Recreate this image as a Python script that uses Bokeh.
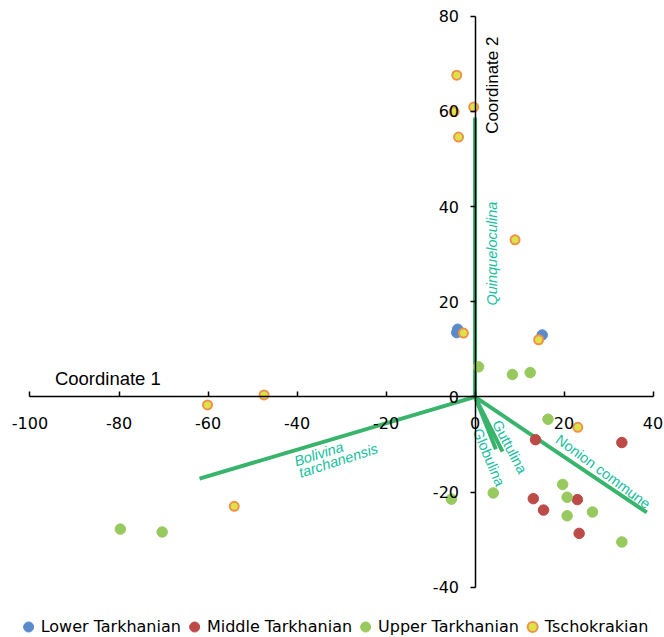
from math import pi
from bokeh.plotting import figure
from bokeh.models import LinearAxis, FixedTicker, Range1d
from bokeh.core.properties import value
from bokeh.embed import file_html
from bokeh.resources import INLINE

# ---- data ----
lower_x = [-3.9, -4.1, 15.1]
lower_y = [14.2, 13.5, 13.0]
middle_x = [13.6, 33.0, 13.1, 23.0, 15.4, 23.4]
middle_y = [-9.0, -9.6, -21.4, -21.6, -23.8, -28.7]
upper_x = [0.8, 8.4, 12.4, 16.4, 19.7, 4.1, 20.7, -5.3, 26.4, 20.7, 33.0, -79.7, -70.3]
upper_y = [6.3, 4.7, 5.1, -4.7, -18.4, -20.2, -21.1, -21.5, -24.2, -25.0, -30.5, -27.8, -28.4]
tsch_x = [-4.1, -4.7, -0.3, -3.7, 9.0, -2.6, 14.3, -60.1, -47.4, -54.1, 23.1]
tsch_y = [67.6, 59.9, 60.9, 54.6, 33.0, 13.4, 12.0, -1.7, 0.4, -23.0, -6.4]

taxa = ["Quinqueloculina", "Bolivina tarchanensis", "Nonion commune", "Globulina", "Guttulina"]
load_x = [0.0, -61.9, 38.6, 4.7, 6.2]
load_y = [58.7, -17.2, -24.3, -11.0, -11.5]

x_ticks = [-100, -80, -60, -40, -20, 0, 20, 40]
y_ticks = [-40, -20, 0, 20, 40, 60, 80]

# ---- label layout (annotation positions, not data) ----
ital_text = ["Quinqueloculina", "Bolivina", "tarchanensis"]
ital_x = [3.8, -35.1, -30.7]
ital_y = [30.1, -12.0, -13.4]
ital_ang = [pi / 2, 0.31, 0.31]

reg_text = ["Nonion commune", "Globulina", "Guttulina"]
reg_x = [28.8, 3.1, 7.8]
reg_y = [-15.7, -12.7, -10.5]
reg_ang = [-0.639, -1.17, -1.09]

LINE_GREEN = "#38B46C"
TEAL = "#17BFA0"

p = figure(width=664, height=637, output_backend="svg", toolbar_location=None,
           x_range=Range1d(-106.629, 42.583), y_range=Range1d(-50.58, 83.30),
           x_axis_location=None, y_axis_location=None, min_border=0)
p.outline_line_color = None
p.background_fill_color = "white"
p.grid.grid_line_color = None
p.grid.visible = False

xaxis = LinearAxis(fixed_location=0, ticker=FixedTicker(ticks=x_ticks), bounds=(-100, 40))
yaxis = LinearAxis(fixed_location=0, ticker=FixedTicker(ticks=y_ticks), bounds=(-40, 80))
xaxis.major_label_overrides = {t: str(t) for t in x_ticks}
yaxis.major_label_overrides = {t: str(t) for t in y_ticks}
for ax in (xaxis, yaxis):
    ax.axis_line_width = 1.5
    ax.axis_line_color = "black"
    ax.major_tick_line_width = 1.5
    ax.major_tick_line_color = "black"
    ax.minor_tick_line_color = None
    ax.major_label_text_font = "DejaVu Sans"
    ax.major_label_text_font_size = "16px"
    ax.major_label_text_color = "black"
xaxis.major_tick_in = 5
xaxis.major_tick_out = 0
xaxis.major_label_standoff = 20
yaxis.major_tick_in = 0
yaxis.major_tick_out = 5
yaxis.major_label_standoff = 11
p.add_layout(xaxis, "below")
p.add_layout(yaxis, "left")

# loading vectors
zeros = [0.0] * len(load_x)
p.segment(x0=zeros, y0=zeros, x1=load_x, y1=load_y, line_color=LINE_GREEN, line_width=4)

# samples
p.scatter(lower_x, lower_y, size=10.5, fill_color="#5B8BCB", line_color="#5B8BCB",
          legend_label="Lower Tarkhanian")
p.scatter(middle_x, middle_y, size=10.5, fill_color="#BC4B48", line_color="#BC4B48",
          legend_label="Middle Tarkhanian")
p.scatter(upper_x, upper_y, size=10.5, fill_color="#97C95E", line_color="#97C95E",
          legend_label="Upper Tarkhanian")
p.scatter(tsch_x, tsch_y, size=9, fill_color="#DCE24A", line_color="#F0914A", line_width=2,
          legend_label="Tschokrakian")

# vector labels
p.text(ital_x, ital_y, text=ital_text, angle=ital_ang, text_color=TEAL,
       text_font=value("Liberation Sans"), text_font_style="italic", text_font_size="14.5px",
       text_align="center", text_baseline="middle")
p.text(reg_x, reg_y, text=reg_text, angle=reg_ang, text_color=TEAL,
       text_font=value("Liberation Sans"), text_font_size="14.5px",
       text_align="center", text_baseline="middle")

# axis titles
p.text([-82.5], [3.9], text=["Coordinate 1"], text_color="black",
       text_font=value("Liberation Sans"), text_font_size="18.5px",
       text_align="center", text_baseline="middle")
p.text([4.0], [65.5], text=["Coordinate 2"], angle=[pi / 2], text_color="black",
       text_font=value("Liberation Sans"), text_font_size="17px",
       text_align="center", text_baseline="middle")

leg = p.legend[0]
leg.location = "bottom_center"
leg.orientation = "horizontal"
leg.glyph_width = 25
leg.glyph_height = 25
leg.label_standoff = -1
leg.spacing = 1
leg.padding = 0
leg.margin = -2
leg.border_line_color = None
leg.background_fill_alpha = 0
leg.label_text_font = "DejaVu Sans"
leg.label_text_font_size = "16px"
leg.label_text_color = "black"
leg.label_height = 20

open("out.html", "w").write(file_html(p, INLINE))
